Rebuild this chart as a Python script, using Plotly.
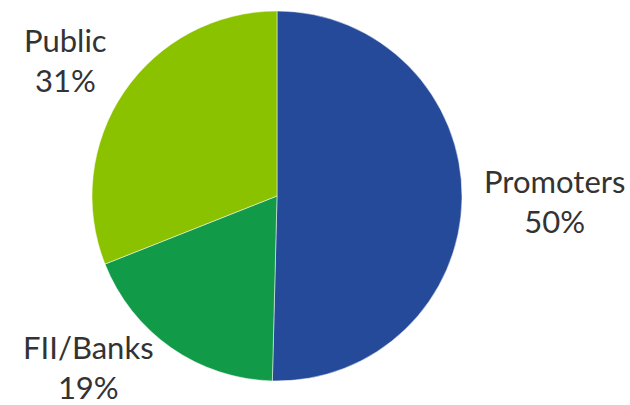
import plotly.graph_objects as go

labels = ["Promoters", "FII/Banks", "Public"]
values = [50.4, 18.6, 31.0]
colors = ["#264A9A", "#119A48", "#8BC200"]

# label anchor positions (paper coords)
label_pos = {
    "Promoters": (554 / 630, 1 - 201 / 405),
    "FII/Banks": (88 / 630, 1 - 367 / 405),
    "Public": (65 / 630, 1 - 60 / 405),
}

fig = go.Figure(go.Pie(
    labels=labels,
    values=values,
    sort=False,
    direction="clockwise",
    rotation=0,
    marker=dict(colors=colors, line=dict(color="white", width=0.5)),
    textinfo="none",
    hoverinfo="label+percent",
    domain=dict(x=[(277 - 185) / 630, (277 + 185) / 630], y=[1 - 381 / 405, 1 - 11 / 405]),
    showlegend=False,
))

total = sum(values)
for lab, val in zip(labels, values):
    x, y = label_pos[lab]
    fig.add_annotation(
        x=x, y=y, xref="paper", yref="paper",
        text=f"{lab}<br>{round(val / total * 100)}%",
        showarrow=False, xanchor="center", yanchor="middle",
        font=dict(family="Lato, sans-serif", size=31, color="#333333"),
    )

fig.update_layout(
    width=630, height=405,
    margin=dict(l=0, r=0, t=0, b=0),
    paper_bgcolor="white", plot_bgcolor="white",
)

fig.write_html("out.html")
